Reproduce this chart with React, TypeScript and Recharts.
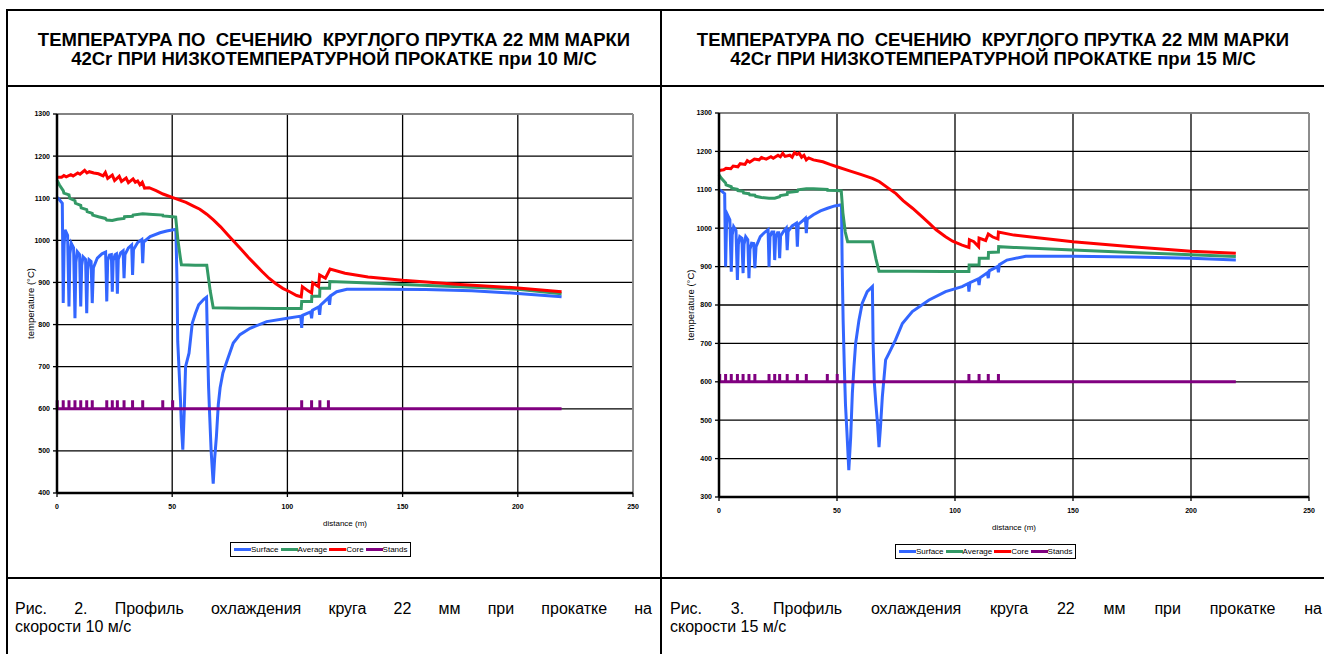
import React from 'react';
import { LineChart, Line, XAxis, YAxis, CartesianGrid, ReferenceLine, Legend, Label } from 'recharts';

type Pt = [number, number];

const FONT = '"Liberation Sans", Arial, Helvetica, sans-serif';

const X_TICKS = [0, 50, 100, 150, 200, 250];
const Y_TICKS_10 = [400, 500, 600, 700, 800, 900, 1000, 1100, 1200, 1300];
const Y_TICKS_15 = [300, 400, 500, 600, 700, 800, 900, 1000, 1100, 1200, 1300];

const SERIES_NAMES = ['Surface', 'Average', 'Core', 'Stands'];
const SERIES_COLORS = ['#3366FF', '#339966', '#FF0000', '#800080'];

const STAND_BASE = 600;
const STAND_MARK = 620;
const STANDS_END = 219;
const STAND_POS_10 = [0.1, 2.7, 5.2, 7.8, 10.3, 12.9, 15.3, 21.6, 24, 26.2, 29.1, 32.8, 37.2, 45.9, 50.2, 106.2, 110.5, 114.1, 117.8];
const STAND_POS_15 = [0.3, 2.8, 5.2, 7.8, 10.2, 12.7, 15.2, 21.2, 23.6, 25.7, 28.9, 33.2, 37, 45.9, 50.1, 105.9, 110.2, 114.1, 118.4];

// ---------- 10 m/s ----------
const SURFACE_10: Pt[] = [
  [0, 1102], [1, 1097], [2.3, 1088], [2.7, 851], [3.1, 990], [3.5, 1025], [4.6, 1012], [5.2, 843], [5.6, 968], [6.2, 993],
  [7.2, 982], [7.8, 815], [8.2, 948], [8.8, 973], [9.8, 966], [10.3, 843], [10.7, 940], [11.3, 961], [12.4, 955], [12.9, 827],
  [13.3, 930], [13.9, 954], [14.8, 950], [15.3, 851], [15.8, 935], [17.5, 958], [19.5, 968], [21.1, 972], [21.6, 855], [22, 952],
  [22.8, 965], [23.6, 966], [24, 878], [24.4, 952], [25.2, 966], [25.8, 968], [26.2, 873], [26.6, 955], [27.6, 970], [28.7, 975],
  [29.1, 910], [29.5, 966], [31, 982], [32.4, 989], [32.8, 918], [33.2, 978], [35, 995], [36.8, 1002], [37.2, 946], [37.6, 996],
  [40.4, 1009], [44.7, 1018], [47.6, 1022], [51.6, 1026], [52.1, 900], [52.4, 760], [53, 690], [53.6, 620], [54, 560], [54.6, 503],
  [55.2, 590], [55.8, 700], [57.3, 732], [58.7, 803], [60.1, 827], [61.5, 847], [63.7, 860], [64.9, 865], [65.3, 760], [65.8, 650],
  [66.3, 580], [66.9, 500], [67.8, 422], [68.4, 480], [69.2, 535], [70, 610], [70.8, 650], [72, 685], [73.7, 712], [76.5, 756],
  [79.4, 776], [83.8, 791], [91, 807], [100, 815], [105.8, 820], [106.2, 792], [106.6, 822], [110.1, 830], [110.5, 815], [110.9, 834],
  [113.6, 842], [114, 823], [114.4, 846], [117.9, 864], [118.3, 847], [118.7, 868], [121.4, 878], [125.8, 884], [140, 884], [160, 883],
  [180, 880], [200, 874], [219, 866],
];

const AVERAGE_10: Pt[] = [
  [0, 1143], [1, 1132], [2.7, 1118], [3, 1112], [5.2, 1108], [5.5, 1100], [7.8, 1094], [8, 1088], [10.3, 1083], [10.5, 1077],
  [12.9, 1073], [13.1, 1068], [15.3, 1064], [15.5, 1060], [18, 1056], [21, 1052], [21.6, 1048], [24, 1047], [26.2, 1050], [29.1, 1052],
  [29.3, 1056], [32.8, 1057], [33, 1060], [37.2, 1063], [40, 1062], [45.9, 1060], [46, 1058], [50.2, 1056], [51.5, 1055], [52.5, 1000],
  [53.5, 960], [54, 942], [60, 941], [65, 941], [66.5, 880], [67.8, 840], [80, 839], [95, 838], [106, 838], [106.2, 855],
  [110.5, 855], [110.6, 867], [114, 867], [114.1, 886], [118.3, 886], [118.4, 902], [130, 900], [150, 895], [175, 890], [200, 884],
  [219, 873],
];

const CORE_10: Pt[] = [
  [0, 1150], [2, 1150], [3, 1154], [4, 1151], [6, 1156], [7, 1153], [9, 1160], [10, 1157], [12, 1166], [13, 1160],
  [14, 1163], [16, 1160], [18, 1158], [20, 1153], [21, 1161], [22, 1147], [24, 1155], [25, 1142], [27, 1152], [28, 1140],
  [30, 1148], [31, 1137], [33, 1146], [34, 1138], [35, 1141], [36, 1132], [37, 1138], [38, 1124], [40, 1125], [43, 1118],
  [46, 1110], [50, 1102], [53, 1096], [56, 1090], [59, 1082], [62, 1074], [65, 1062], [68, 1048], [71, 1032], [74, 1014],
  [77, 996], [80, 978], [83, 960], [86, 943], [89, 926], [92, 910], [95, 897], [98, 886], [101, 878], [104, 869],
  [106, 866], [106.5, 890], [109, 880], [110.5, 875], [111, 899], [113.5, 890], [114, 918], [116.5, 910], [118.5, 932], [125, 922],
  [135, 913], [150, 905], [175, 895], [200, 887], [219, 878],
];

// ---------- 15 m/s ----------
const SURFACE_15: Pt[] = [
  [0, 1100], [1, 1097], [2.4, 1090], [2.8, 900], [3.2, 1010], [3.6, 1035], [4.6, 1022], [5.2, 887], [5.6, 982], [6.2, 1004],
  [7.2, 994], [7.8, 865], [8.2, 958], [8.8, 978], [9.7, 974], [10.2, 883], [10.6, 958], [11.3, 978], [12.2, 970], [12.7, 870],
  [13.1, 944], [13.8, 961], [14.7, 960], [15.2, 896], [15.7, 952], [17.5, 978], [19.5, 990], [20.8, 996], [21.2, 900], [21.6, 978],
  [22.4, 990], [23.2, 990], [23.6, 917], [24, 976], [24.8, 988], [25.3, 988], [25.7, 922], [26.1, 980], [27.4, 992], [28.5, 1000],
  [28.9, 943], [29.3, 992], [31, 1006], [32.8, 1013], [33.2, 952], [33.6, 1010], [35.5, 1020], [36.6, 1026], [37, 987], [37.4, 1024],
  [40, 1035], [43, 1045], [46, 1052], [49, 1058], [51.9, 1061], [52.2, 900], [52.6, 760], [53.1, 640], [53.6, 540], [54.2, 470],
  [54.6, 420], [55, 370], [55.8, 456], [56.5, 570], [57.2, 640], [57.9, 700], [59.3, 760], [60.7, 805], [62.8, 835], [65, 848],
  [65.3, 700], [65.8, 600], [66.5, 540], [67.2, 490], [67.8, 430], [68.4, 480], [69.2, 560], [70.6, 657], [72, 674], [74.8, 709],
  [77.7, 752], [81.9, 783], [89, 813], [96, 835], [103, 848], [105.6, 856], [105.9, 835], [106.3, 858], [109.8, 868], [110.2, 852],
  [110.6, 871], [113.7, 884], [114.1, 870], [114.5, 889], [118, 900], [118.4, 885], [118.8, 905], [122, 917], [130, 927], [150, 927],
  [175, 925], [200, 922], [219, 917],
];

const AVERAGE_15: Pt[] = [
  [0, 1139], [1, 1130], [2.8, 1118], [3, 1113], [5.2, 1108], [5.4, 1104], [7.8, 1101], [8, 1098], [10.2, 1096], [10.4, 1092],
  [12.7, 1090], [13, 1087], [15.2, 1086], [15.5, 1083], [18, 1080], [21.2, 1078], [23.6, 1078], [25.7, 1082], [26, 1085], [28.9, 1088],
  [29, 1093], [33.2, 1096], [33.5, 1100], [37, 1103], [40, 1103], [45.9, 1101], [46, 1099], [50.1, 1098], [51.8, 1097], [52.5, 1040],
  [53.5, 990], [54.5, 965], [60, 965], [65, 965], [66.5, 920], [67.8, 888], [80, 888], [95, 887], [105.9, 887], [106, 904],
  [110.2, 904], [110.3, 922], [114.1, 922], [114.2, 937], [118.4, 938], [118.5, 952], [125, 950], [150, 943], [175, 937], [200, 931],
  [219, 926],
];

const CORE_15: Pt[] = [
  [0, 1150], [2, 1152], [3, 1156], [5, 1155], [6, 1162], [8, 1160], [9, 1168], [11, 1166], [12, 1176], [13, 1172],
  [15, 1180], [17, 1178], [18, 1184], [20, 1180], [22, 1186], [23, 1182], [25, 1190], [26, 1186], [27, 1195], [28, 1187],
  [30, 1190], [31, 1185], [32, 1197], [33, 1192], [34, 1195], [35, 1185], [36, 1190], [37, 1178], [38, 1183], [40, 1178],
  [44, 1173], [47, 1166], [50, 1160], [55, 1150], [60, 1140], [65, 1130], [68, 1121], [72, 1103], [75, 1090], [78, 1072],
  [82, 1052], [86, 1030], [89, 1013], [92, 996], [96, 978], [99, 966], [103, 956], [105.9, 950], [106.1, 970], [108, 965],
  [110, 952], [110.2, 974], [113, 968], [114.1, 985], [116, 977], [118.2, 972], [118.4, 990], [125, 982], [135, 975], [150, 965],
  [175, 952], [200, 940], [219, 935],
];

type Row = { x: number; t: number };
const toRows = (pts: Pt[]): Row[] => pts.map(([x, t]) => ({ x, t }));
const standRows = (pos: number[]): Row[] => {
  const rows: Row[] = [{ x: 0, t: STAND_BASE }];
  pos.forEach((p) => {
    rows.push({ x: p, t: STAND_BASE }, { x: p, t: STAND_MARK }, { x: p, t: STAND_BASE });
  });
  rows.push({ x: STANDS_END, t: STAND_BASE });
  return rows;
};

const TICK_STYLE = { fontSize: 7, fontWeight: 'bold' as const, fill: '#000', fontFamily: FONT };

const LegendBox = () => (
  <div
    style={{
      display: 'inline-flex',
      alignItems: 'center',
      border: '1px solid #000',
      background: '#fff',
      padding: '0 3px',
      height: 15,
      boxSizing: 'border-box',
      fontFamily: FONT,
      fontSize: 8,
      color: '#000',
      whiteSpace: 'nowrap',
    }}
  >
    {SERIES_NAMES.map((n, i) => (
      <span key={n} style={{ display: 'inline-flex', alignItems: 'center', marginRight: i < 3 ? 2 : 0 }}>
        <span style={{ display: 'inline-block', width: 17, height: 3, background: SERIES_COLORS[i] }} />
        <span>{n}</span>
      </span>
    ))}
  </div>
);

type ChartProps = {
  width: number;
  height: number;
  margin: { top: number; right: number; bottom: number; left: number };
  yDomain: [number, number];
  yTicks: number[];
  surface: Pt[];
  average: Pt[];
  core: Pt[];
  stands: number[];
  legendLeft: number;
  legendTop: number;
  yLabelX: number;
  xLabelOffset: number;
};

function ProfileChart(p: ChartProps) {
  const series = [
    { name: SERIES_NAMES[0], color: SERIES_COLORS[0], rows: toRows(p.surface) },
    { name: SERIES_NAMES[1], color: SERIES_COLORS[1], rows: toRows(p.average) },
    { name: SERIES_NAMES[2], color: SERIES_COLORS[2], rows: toRows(p.core) },
    { name: SERIES_NAMES[3], color: SERIES_COLORS[3], rows: standRows(p.stands) },
  ];
  const yLabel = (props: any) => {
    const vb = props.viewBox || {};
    const cy = (vb.y ?? 0) + (vb.height ?? 0) / 2;
    const cx = p.yLabelX;
    return (
      <text
        x={cx}
        y={cy}
        transform={`rotate(-90 ${cx} ${cy})`}
        textAnchor="middle"
        dominantBaseline="central"
        fontSize={9.5}
        fontFamily={FONT}
        fill="#000"
      >
        temperature (°C)
      </text>
    );
  };
  return (
    <LineChart width={p.width} height={p.height} margin={p.margin}>
      <CartesianGrid stroke="#000" strokeWidth={1.3} />
      <ReferenceLine y={p.yDomain[1]} stroke="#9a9a9a" strokeWidth={1.6} />
      <ReferenceLine x={250} stroke="#9a9a9a" strokeWidth={1.6} />
      <XAxis
        type="number"
        dataKey="x"
        domain={[0, 250]}
        ticks={X_TICKS}
        interval={0}
        height={20}
        tickSize={4}
        tickMargin={7}
        axisLine={{ stroke: '#000', strokeWidth: 2.5 }}
        tickLine={{ stroke: '#000', strokeWidth: 1.3 }}
        tick={TICK_STYLE}
      >
        <Label value="distance (m)" position="bottom" offset={p.xLabelOffset} style={{ fontSize: 8, fontFamily: FONT, fill: '#000' }} />
      </XAxis>
      <YAxis
        type="number"
        domain={p.yDomain}
        ticks={p.yTicks}
        interval={0}
        width={40}
        tickSize={4}
        tickMargin={3}
        axisLine={{ stroke: '#000', strokeWidth: 2.5 }}
        tickLine={{ stroke: '#000', strokeWidth: 1.3 }}
        tick={TICK_STYLE}
      >
        <Label content={yLabel} />
      </YAxis>
      {series.map((s) => (
        <Line
          key={s.name}
          data={s.rows}
          dataKey="t"
          name={s.name}
          type="linear"
          stroke={s.color}
          strokeWidth={3}
          dot={false}
          activeDot={false}
          isAnimationActive={false}
        />
      ))}
      <Legend
        layout="horizontal"
        verticalAlign="middle"
        align="center"
        wrapperStyle={{ left: p.legendLeft, top: p.legendTop, width: 'auto', height: 'auto', margin: 0 }}
        content={() => <LegendBox />}
      />
    </LineChart>
  );
}

const TITLE_10 = 'ТЕМПЕРАТУРА ПО  СЕЧЕНИЮ  КРУГЛОГО ПРУТКА 22 ММ МАРКИ\n42Cr ПРИ НИЗКОТЕМПЕРАТУРНОЙ ПРОКАТКЕ при 10 М/С';
const TITLE_15 = 'ТЕМПЕРАТУРА ПО  СЕЧЕНИЮ  КРУГЛОГО ПРУТКА 22 ММ МАРКИ\n42Cr ПРИ НИЗКОТЕМПЕРАТУРНОЙ ПРОКАТКЕ при 15 М/С';
const CAPTION_10 = ['Рис. 2. Профиль охлаждения круга 22 мм при прокатке на', 'скорости 10 м/с'];
const CAPTION_15 = ['Рис. 3. Профиль охлаждения круга 22 мм при прокатке на', 'скорости 15 м/с'];

const line = (l: number, t: number, w: number, h: number) => (
  <div style={{ position: 'absolute', left: l, top: t, width: w, height: h, background: '#000' }} />
);

const Title = ({ left, width, text }: { left: number; width: number; text: string }) => (
  <div
    style={{
      position: 'absolute',
      left,
      top: 11,
      width,
      height: 75,
      display: 'flex',
      alignItems: 'center',
      justifyContent: 'center',
      textAlign: 'center',
      whiteSpace: 'pre',
      fontFamily: FONT,
      fontWeight: 'bold',
      fontSize: 18.5,
      lineHeight: '19px',
      color: '#000',
    }}
  >
    {text}
  </div>
);

const Caption = ({ left, width, lines }: { left: number; width: number; lines: string[] }) => (
  <div style={{ position: 'absolute', left, top: 600, width, fontFamily: FONT, fontSize: 16, lineHeight: '18px', color: '#000' }}>
    <div style={{ textAlign: 'justify', textAlignLast: 'justify' as any }}>{lines[0]}</div>
    <div>{lines[1]}</div>
  </div>
);

export default function App() {
  return (
    <div style={{ position: 'absolute', left: 0, top: 0, width: 1324, height: 654, background: '#fff', overflow: 'hidden' }}>
      {line(6, 9, 1318, 2)}
      {line(6, 85, 1318, 2)}
      {line(6, 577, 1318, 2)}
      {line(6, 9, 2, 645)}
      {line(660, 9, 2, 645)}
      <Title left={8} width={652} text={TITLE_10} />
      <Title left={662} width={662} text={TITLE_15} />
      <div style={{ position: 'absolute', left: 7, top: 88 }}>
        <ProfileChart
          width={650}
          height={488}
          margin={{ top: 26, right: 24, left: 10, bottom: 63 }}
          yDomain={[400, 1300]}
          yTicks={Y_TICKS_10}
          surface={SURFACE_10}
          average={AVERAGE_10}
          core={CORE_10}
          stands={STAND_POS_10}
          legendLeft={223}
          legendTop={449}
          yLabelX={23}
          xLabelOffset={7}
        />
      </div>
      <div style={{ position: 'absolute', left: 663, top: 88 }}>
        <ProfileChart
          width={660}
          height={488}
          margin={{ top: 25, right: 14, left: 16, bottom: 59 }}
          yDomain={[300, 1300]}
          yTicks={Y_TICKS_15}
          surface={SURFACE_15}
          average={AVERAGE_15}
          core={CORE_15}
          stands={STAND_POS_15}
          legendLeft={232}
          legendTop={451}
          yLabelX={27}
          xLabelOffset={7}
        />
      </div>
      <Caption left={15} width={637} lines={CAPTION_10} />
      <Caption left={670} width={652} lines={CAPTION_15} />
    </div>
  );
}
